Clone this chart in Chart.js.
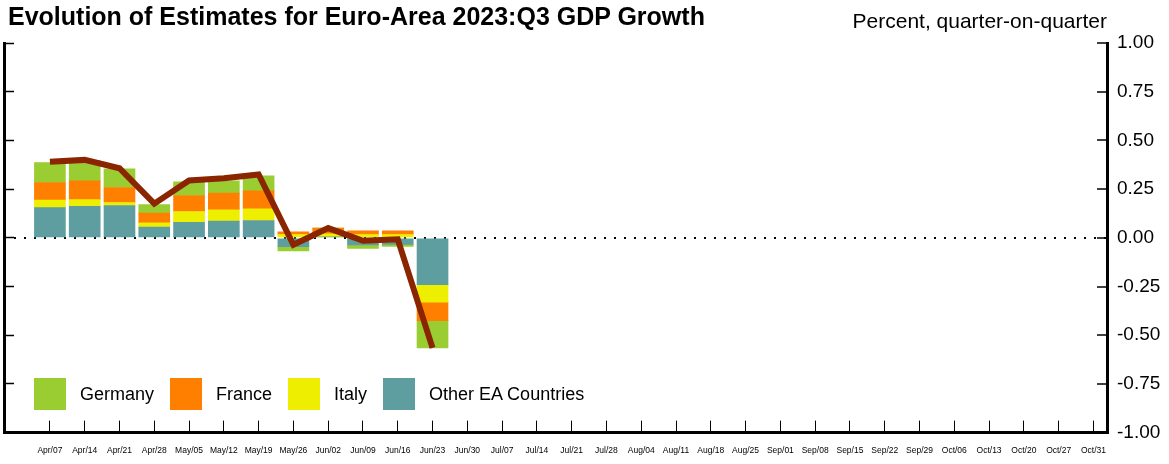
<!DOCTYPE html>
<html lang="en">
<head>
  <meta charset="UTF-8" />
  <title>Evolution of Estimates for Euro-Area 2023:Q3 GDP Growth</title>
  <script src="https://cdn.jsdelivr.net/npm/chart.js"></script>
  <style>
    body {
      margin: 0;
      background: #fff;
      font-family: 'Liberation Sans', Arial, sans-serif;
    }

    .wrap {
      position: relative;
      width: 1169px;
      height: 464px;
    }

    .title {
      position: absolute;
      left: 8px;
      top: 4px;
      font-size: 25px;
      line-height: 25px;
      font-weight: bold;
      color: #000;
    }

    .unit {
      position: absolute;
      right: 62px;
      top: 10px;
      font-size: 21px;
      line-height: 21px;
      color: #000;
    }

    .legend {
      position: absolute;
      left: 34px;
      top: 378px;
      display: flex;
      align-items: center;
    }

    .legend .item {
      display: flex;
      align-items: center;
      margin-right: 16px;
      font-size: 18px;
      color: #000;
    }

    .legend .box {
      width: 32px;
      height: 32px;
      margin-right: 14px;
    }
  </style>
</head>
<body>
  <div class="wrap">
    <canvas id="chart" width="1169" height="464"></canvas>
    <div class="title">Evolution of Estimates for Euro-Area 2023:Q3 GDP Growth</div>
    <div class="unit">Percent, quarter-on-quarter</div>
    <div class="legend" id="legend"></div>
  </div>

  <script>
    // weekly estimate dates on the x axis
    const xLabels = ['Apr/07', 'Apr/14', 'Apr/21', 'Apr/28', 'May/05', 'May/12', 'May/19', 'May/26',
      'Jun/02', 'Jun/09', 'Jun/16', 'Jun/23', 'Jun/30', 'Jul/07', 'Jul/14', 'Jul/21', 'Jul/28',
      'Aug/04', 'Aug/11', 'Aug/18', 'Aug/25', 'Sep/01', 'Sep/08', 'Sep/15', 'Sep/22', 'Sep/29',
      'Oct/06', 'Oct/13', 'Oct/20', 'Oct/27', 'Oct/31'];

    // contributions (pp), one value per estimate date so far
    const germany = [0.102, 0.104, 0.096, 0.044, 0.070, 0.063, 0.077, -0.022, 0.000, -0.018, -0.010, -0.140];
    const france  = [0.091, 0.096, 0.077, 0.050, 0.082, 0.085, 0.092, 0.014, 0.030, 0.019, 0.019, -0.095];
    const italy   = [0.038, 0.035, 0.015, 0.022, 0.055, 0.058, 0.060, 0.017, 0.015, 0.017, 0.017, -0.090];
    const otherEA = [0.155, 0.161, 0.166, 0.055, 0.080, 0.086, 0.089, -0.045, 0.005, -0.037, -0.034, -0.240];
    const total   = [0.390, 0.400, 0.357, 0.175, 0.294, 0.306, 0.325, -0.036, 0.050, -0.015, -0.008, -0.565];

    const yTicks = [-1, -0.75, -0.5, -0.25, 0, 0.25, 0.5, 0.75, 1];

    const colors = {
      germany: '#9acd32',
      france: '#ff7f00',
      italy: '#eeee00',
      other: '#5f9ea0',
      line: '#8b2500'
    };

    const toPoints = arr => arr.map((v, i) => ({ x: i, y: v }));

    // stacking goes outward from zero in dataset order
    const bars = [
      { label: 'Other EA Countries', data: otherEA, color: colors.other },
      { label: 'Italy', data: italy, color: colors.italy },
      { label: 'France', data: france, color: colors.france },
      { label: 'Germany', data: germany, color: colors.germany }
    ];

    const datasets = [{
      type: 'line',
      label: 'Total',
      data: toPoints(total),
      borderColor: colors.line,
      borderWidth: 6,
      pointRadius: 0,
      tension: 0,
      borderJoinStyle: 'miter',
      stack: 'line',
      order: 0
    }];

    bars.forEach(b => {
      datasets.push({
        type: 'bar',
        label: b.label,
        data: toPoints(b.data),
        backgroundColor: b.color,
        borderWidth: 0,
        barThickness: 31,
        order: 1
      });
    });

    const legendEl = document.getElementById('legend');
    bars.slice().reverse().forEach(b => {
      const item = document.createElement('div');
      item.className = 'item';
      item.innerHTML = `<span class="box" style="background:${b.color}"></span><span>${b.label}</span>`;
      legendEl.appendChild(item);
    });

    const yRange = {
      min: -1,
      max: 1,
      afterBuildTicks: s => { s.ticks = yTicks.map(v => ({ value: v })); }
    };

    new Chart(document.getElementById('chart'), {
      data: { datasets },
      options: {
        responsive: false,
        animation: false,
        layout: { padding: { top: 43, left: 0, right: 0, bottom: 0 } },
        plugins: {
          legend: { display: false },
          tooltip: { enabled: false }
        },
        scales: {
          x: {
            type: 'linear',
            stacked: true,
            offset: false,
            min: -1.32,
            max: 30.39,
            afterBuildTicks: s => { s.ticks = xLabels.map((_, i) => ({ value: i })); },
            afterFit: s => { s.height = 30; },
            ticks: {
              autoSkip: false,
              maxRotation: 0,
              padding: 25,
              color: '#000',
              font: { family: 'Liberation Sans', size: 8.5 },
              callback: v => xLabels[v]
            },
            grid: {
              offset: false,
              drawOnChartArea: false,
              tickLength: -12,
              tickColor: '#000',
              tickWidth: 1
            },
            border: { width: 3, color: '#000' }
          },
          y: {
            ...yRange,
            position: 'right',
            stacked: true,
            z: 1,
            afterFit: s => { s.width = 62; },
            ticks: {
              padding: 20,
              color: '#000',
              font: { family: 'Liberation Sans', size: 19 },
              callback: v => v.toFixed(2)
            },
            grid: {
              drawOnChartArea: true,
              color: c => (c.tick && c.tick.value === 0) ? '#000' : 'rgba(0,0,0,0)',
              lineWidth: 2,
              tickLength: -10,
              tickColor: '#000',
              tickWidth: 1.5
            },
            border: { width: 3, color: '#000', dash: [2, 8] }
          },
          yl: {
            ...yRange,
            position: 'left',
            afterFit: s => { s.width = 4; },
            ticks: { display: false },
            grid: {
              drawOnChartArea: false,
              tickLength: -10,
              tickColor: '#000',
              tickWidth: 1.5
            },
            border: { width: 3, color: '#000' }
          }
        }
      }
    });
  </script>
</body>
</html>
